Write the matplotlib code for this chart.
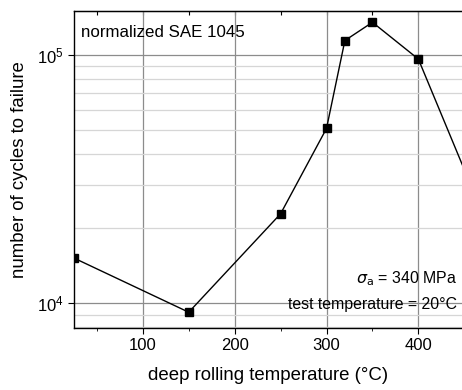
import numpy as np
import matplotlib
matplotlib.use("Agg")
import matplotlib.pyplot as plt
from matplotlib.ticker import LogLocator, MultipleLocator, NullFormatter

plt.rcParams['font.family'] = ['Liberation Sans', 'DejaVu Sans']

# deep rolling temperature (°C) and cycles to failure
temp = [25, 150, 250, 300, 320, 350, 400, 500]
cycles = [15200, 9200, 22900, 50500, 114000, 135000, 96000, 12400]

fig = plt.figure(figsize=(4.62, 3.9), dpi=100)
ax = fig.add_axes([0.160, 0.159, 0.84, 0.813])

ax.plot(temp, cycles, color='black', lw=1.0, marker='s', ms=5.5)

ax.set_yscale('log')
ax.set_xlim(25, 447.5)
ax.set_ylim(7950, 150000)

ax.xaxis.set_major_locator(MultipleLocator(100))
ax.xaxis.set_minor_locator(MultipleLocator(50))
ax.yaxis.set_major_locator(LogLocator(base=10))
ax.yaxis.set_minor_locator(LogLocator(base=10, subs=np.arange(2, 10)))
ax.yaxis.set_minor_formatter(NullFormatter())

ax.grid(True, which='major', color='#8c8c8c', lw=0.9)
ax.grid(True, which='minor', axis='y', color='#d6d6d6', lw=0.9)
ax.set_axisbelow(True)

ax.tick_params(axis='x', which='both', direction='out', labelsize=12)
ax.tick_params(axis='x', which='major', length=4)
ax.tick_params(axis='x', which='minor', length=2.5)
ax.tick_params(axis='y', which='major', direction='out', length=4, labelsize=12)
ax.tick_params(axis='y', which='minor', length=0)

top = ax.secondary_xaxis('top')
top.xaxis.set_major_locator(MultipleLocator(50))
top.tick_params(direction='in', length=3, labeltop=False)

for s in ax.spines.values():
    s.set_linewidth(1.0)
ax.spines['right'].set_visible(False)

ax.set_xlabel('deep rolling temperature (°C)', fontsize=13.4, labelpad=10)
ax.set_ylabel('number of cycles to failure', fontsize=13.4, labelpad=6)

ax.text(0.017, 0.955, 'normalized SAE 1045', transform=ax.transAxes,
        fontsize=12.2, va='top', ha='left')
ax.text(0.987, 0.155, r'$\sigma_\mathrm{a}$ = 340 MPa', transform=ax.transAxes,
        fontsize=11.4, va='center', ha='right')
ax.text(0.987, 0.073, 'test temperature = 20°C', transform=ax.transAxes,
        fontsize=11.4, va='center', ha='right')

fig.savefig('out.png', dpi=100)
